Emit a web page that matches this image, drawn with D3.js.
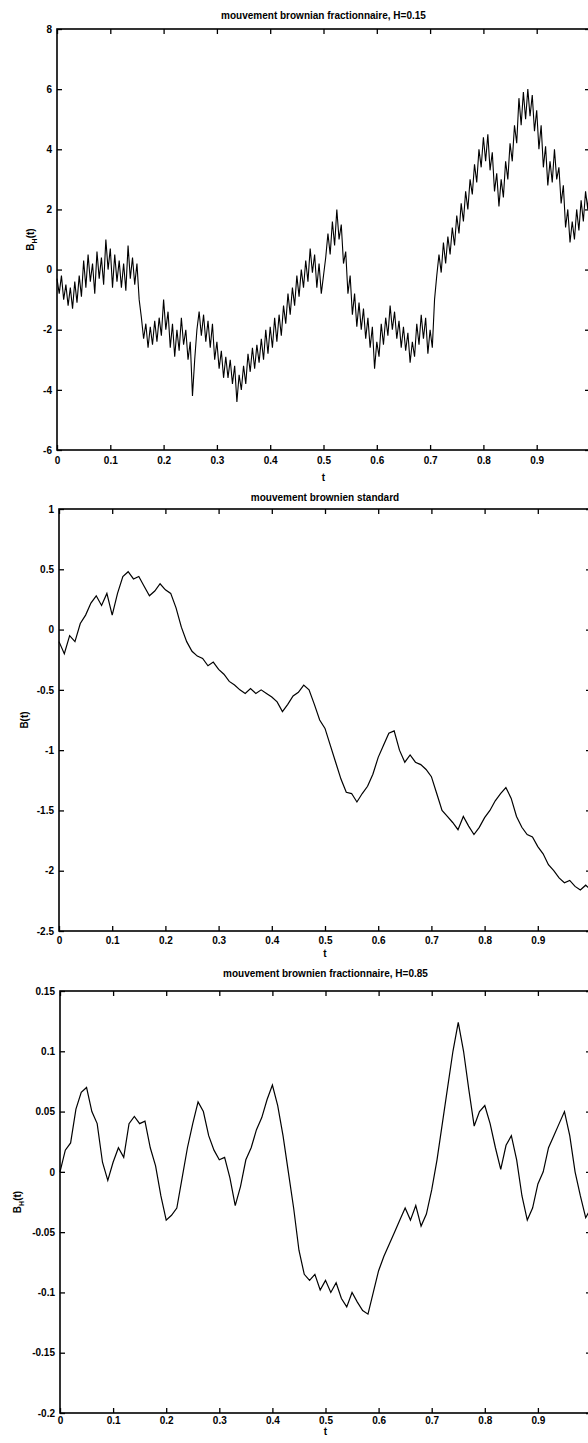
<!DOCTYPE html>
<html>
<head>
<meta charset="utf-8">
<script src="https://cdn.jsdelivr.net/npm/d3@7"></script>
<style>
body { margin: 0; background: #fff; }
svg text { font-family: "Liberation Sans", Arial, Helvetica, sans-serif; font-weight: bold; font-size: 10px; fill: #000; }
</style>
</head>
<body>
<div id="chart"></div>
<script>
// fractional brownian motion H=0.15, 241 samples on [0,1]
var bH015 = [-0.3,-0.8,-0.2,-1.0,-0.5,-1.2,-0.6,-1.3,-0.4,-1.1,-0.2,-0.9,0.3,
  -0.6,0.5,-0.4,0.2,-0.8,0.6,-0.3,0.4,-0.5,1.0,0.0,0.7,
  -0.6,0.5,-0.4,0.3,-0.6,0.2,-0.7,0.8,-0.3,0.4,-0.5,0.2,
  -1.0,-1.6,-2.3,-1.8,-2.6,-1.9,-2.5,-1.7,-2.4,-1.6,-2.2,-1.0,
  -2.0,-1.4,-2.6,-1.8,-2.9,-2.0,-2.7,-1.6,-2.5,-2.0,-3.0,-2.4,
  -4.2,-3.0,-2.0,-1.4,-2.2,-1.5,-2.4,-1.7,-2.6,-1.8,-3.0,-2.4,
  -3.3,-2.7,-3.6,-2.9,-3.6,-3.0,-3.8,-3.2,-4.4,-3.5,-4.0,-3.2,
  -3.8,-2.8,-3.4,-2.6,-3.3,-2.5,-3.1,-2.3,-3.0,-2.0,-2.8,-1.9,
  -2.6,-1.6,-2.4,-1.5,-2.2,-1.2,-1.8,-0.8,-1.5,-0.6,-1.2,-0.2,
  -0.9,0.0,-0.6,0.3,-0.4,0.7,-0.1,0.5,-0.6,0.2,-0.8,-0.2,
  0.4,1.2,0.5,1.6,0.8,2.0,1.0,1.5,0.2,0.6,-0.8,-0.2,
  -1.5,-0.8,-1.9,-1.1,-2.0,-1.3,-2.3,-1.6,-2.6,-1.9,-3.3,-2.4,
  -2.9,-1.8,-2.5,-1.6,-2.2,-1.2,-2.0,-1.4,-2.3,-1.7,-2.6,-1.9,
  -2.7,-2.1,-3.1,-2.4,-2.9,-1.8,-2.5,-1.5,-2.3,-1.6,-2.8,-2.0,
  -2.6,-1.0,-0.2,0.5,-0.1,0.9,0.2,1.1,0.5,1.4,0.8,1.8,
  1.2,2.2,1.6,2.6,2.0,3.0,2.5,3.5,2.9,4.0,3.4,4.4,
  3.6,4.5,3.3,3.9,2.6,3.2,2.1,3.0,2.4,3.6,3.0,4.2,
  3.6,4.8,4.2,5.7,4.8,5.9,5.0,6.0,5.1,5.8,4.6,5.3,
  4.0,4.8,3.4,4.1,2.8,3.6,2.9,4.0,3.0,3.4,2.2,2.8,
  1.4,2.0,0.9,1.6,1.0,2.0,1.3,2.3,1.6,2.6,2.0,3.2];

// standard brownian motion, 101 samples on [0,1]
var bStd = [-0.10,-0.20,-0.05,-0.10,0.05,0.12,0.22,0.28,0.20,0.30,
  0.12,0.30,0.44,0.48,0.42,0.44,0.36,0.28,0.32,0.38,
  0.33,0.30,0.18,0.02,-0.10,-0.18,-0.22,-0.24,-0.30,-0.27,
  -0.33,-0.37,-0.43,-0.46,-0.50,-0.53,-0.49,-0.53,-0.50,-0.53,
  -0.56,-0.60,-0.68,-0.62,-0.55,-0.52,-0.46,-0.50,-0.62,-0.75,
  -0.82,-0.96,-1.10,-1.24,-1.35,-1.36,-1.43,-1.36,-1.30,-1.20,
  -1.06,-0.96,-0.86,-0.84,-1.00,-1.10,-1.04,-1.10,-1.12,-1.16,
  -1.22,-1.36,-1.50,-1.55,-1.60,-1.66,-1.55,-1.63,-1.70,-1.64,
  -1.56,-1.50,-1.42,-1.36,-1.31,-1.40,-1.55,-1.64,-1.70,-1.72,
  -1.80,-1.86,-1.95,-2.00,-2.06,-2.10,-2.08,-2.13,-2.16,-2.12,
  -2.16];

// fractional brownian motion H=0.85, 101 samples on [0,1]
var bH085 = [0.000,0.018,0.024,0.052,0.066,0.070,0.050,0.040,0.008,-0.007,
  0.008,0.020,0.012,0.040,0.046,0.040,0.042,0.020,0.005,-0.020,
  -0.040,-0.036,-0.030,-0.005,0.020,0.040,0.058,0.050,0.030,0.018,
  0.010,0.012,-0.005,-0.028,-0.012,0.010,0.020,0.035,0.045,0.060,
  0.072,0.055,0.030,0.000,-0.030,-0.065,-0.085,-0.090,-0.085,-0.098,
  -0.090,-0.100,-0.092,-0.105,-0.112,-0.100,-0.108,-0.115,-0.118,-0.100,
  -0.082,-0.070,-0.060,-0.050,-0.040,-0.030,-0.040,-0.028,-0.045,-0.035,
  -0.015,0.010,0.040,0.070,0.100,0.124,0.100,0.068,0.038,0.050,
  0.055,0.040,0.020,0.002,0.022,0.030,0.010,-0.020,-0.040,-0.030,
  -0.010,0.000,0.020,0.030,0.040,0.050,0.030,0.000,-0.020,-0.038,
  -0.030];

// the tick at t=1 sits on the cropped right edge, so it carries no label
var xTicks = [0,0.1,0.2,0.3,0.4,0.5,0.6,0.7,0.8,0.9,1];
var xTickLabels = ["0","0.1","0.2","0.3","0.4","0.5","0.6","0.7","0.8","0.9",""];

var yTicks015 = [-6,-4,-2,0,2,4,6,8];
var yLabels015 = ["-6","-4","-2","0","2","4","6","8"];
var yTicksStd = [-2.5,-2,-1.5,-1,-0.5,0,0.5,1];
var yLabelsStd = ["-2.5","-2","-1.5","-1","-0.5","0","0.5","1"];
var yTicks085 = [-0.2,-0.15,-0.1,-0.05,0,0.05,0.1,0.15];
var yLabels085 = ["-0.2","-0.15","-0.1","-0.05","0","0.05","0.1","0.15"];

var svg = d3.select("#chart").append("svg")
    .attr("width", 588)
    .attr("height", 1443);

svg.append("rect").attr("width", 588).attr("height", 1443).attr("fill", "#fff");

drawPanel({values: bH015, yTicks: yTicks015, yLabels: yLabels015,
	   left: 57, right: 590, top: 29, bottom: 450, lw: 1.1,
	   title: "mouvement brownian fractionnaire, H=0.15", titleY: 19,
	   xPad: 7, tY: 481, ylab: "H", ylabX: 30});

drawPanel({values: bStd, yTicks: yTicksStd, yLabels: yLabelsStd,
	   left: 59, right: 591, top: 509, bottom: 931, lw: 1.2,
	   title: "mouvement brownien standard", titleY: 501,
	   xPad: 6, tY: 957, ylab: null, ylabX: 24});

drawPanel({values: bH085, yTicks: yTicks085, yLabels: yLabels085,
	   left: 60, right: 591, top: 991, bottom: 1413, lw: 1.2,
	   title: "mouvement brownien fractionnaire, H=0.85", titleY: 977,
	   xPad: 4, tY: 1435, ylab: "H", ylabX: 17});

function drawPanel(o) {
    var x = d3.scaleLinear().domain([0, 1]).range([o.left, o.right]);
    var y = d3.scaleLinear()
	.domain([o.yTicks[0], o.yTicks[o.yTicks.length - 1]])
	.range([o.bottom, o.top]);
    var n = o.values.length;
    var g = svg.append("g");

    g.append("path")
	.datum(o.values)
	.attr("fill", "none")
	.attr("stroke", "#000")
	.attr("stroke-width", o.lw)
	.attr("stroke-linejoin", "miter")
	.attr("d", d3.line()
	      .x(function(d, i) { return x(i / (n - 1)); })
	      .y(function(d) { return y(d); }));

    // inward ticks on all four sides
    g.append("g")
	.attr("transform", "translate(0," + o.bottom + ")")
	.call(d3.axisBottom(x).tickValues(xTicks).tickSize(-5).tickPadding(o.xPad)
	      .tickFormat(function(d, i) { return xTickLabels[i]; }));
    g.append("g")
	.attr("transform", "translate(0," + o.top + ")")
	.call(d3.axisTop(x).tickValues(xTicks).tickSize(-5).tickFormat(""));
    g.append("g")
	.attr("transform", "translate(" + o.left + ",0)")
	.call(d3.axisLeft(y).tickValues(o.yTicks).tickSize(-5).tickPadding(5)
	      .tickFormat(function(d, i) { return o.yLabels[i]; }));
    g.append("g")
	.attr("transform", "translate(" + o.right + ",0)")
	.call(d3.axisRight(y).tickValues(o.yTicks).tickSize(-5).tickFormat(""));

    g.selectAll(".domain").remove();
    g.selectAll(".tick line").attr("stroke", "#000").attr("stroke-width", 1.3);
    g.selectAll("g").attr("font-family", null).attr("font-size", null);

    g.append("rect")
	.attr("x", o.left).attr("y", o.top)
	.attr("width", o.right - o.left).attr("height", o.bottom - o.top)
	.attr("fill", "none")
	.attr("stroke", "#000")
	.attr("stroke-width", 1.6);

    g.append("text")
	.attr("x", (o.left + o.right) / 2)
	.attr("y", o.titleY)
	.attr("text-anchor", "middle")
	.text(o.title);

    g.append("text")
	.attr("x", (o.left + o.right) / 2)
	.attr("y", o.tY)
	.attr("text-anchor", "middle")
	.text("t");

    var cy = (o.top + o.bottom) / 2;
    var yl = g.append("text")
	.attr("transform", "translate(" + o.ylabX + "," + cy + ") rotate(-90)")
	.attr("text-anchor", "middle")
	.attr("dy", "0.35em");
    yl.append("tspan").text("B");
    if (o.ylab) {
	yl.append("tspan").attr("font-size", "7px").attr("dy", "3").text(o.ylab);
	yl.append("tspan").attr("dy", "-3").text("(t)");
    } else {
	yl.append("tspan").text("(t)");
    }
}
</script>
</body>
</html>
